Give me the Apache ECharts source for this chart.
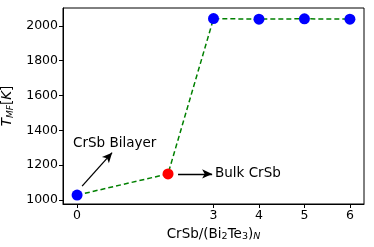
<!DOCTYPE html>
<html><head><meta charset="utf-8">
<script src="https://cdn.jsdelivr.net/npm/echarts@6/dist/echarts.min.js"></script>
<style>html,body{margin:0;padding:0;background:#fff}#c{width:374px;height:247px}</style>
</head><body><div id="c"></div>
<script>
const xValues = [0, 2, 3, 4, 5, 6];
const tmfValues = [1028, 1150, 2042, 2039, 2041, 2039];
const pointColors = ['#0000ff', '#ff0000', '#0000ff', '#0000ff', '#0000ff', '#0000ff'];
const xTicks = [0, 3, 4, 5, 6];
const yTicks = [1000, 1200, 1400, 1600, 1800, 2000];

const chart = echarts.init(document.getElementById('c'), null, {renderer: 'canvas'});
const font = 'DejaVu Sans';
const data = xValues.map((x, i) => ({value: [x, tmfValues[i]], itemStyle: {color: pointColors[i]}}));
chart.setOption({
  animation: false,
  textStyle: {fontFamily: font},
  grid: {left: 63, right: 10, top: 8, bottom: 43, show: true, borderColor: '#000', borderWidth: 1,
         containLabel: false, outerBoundsMode: 'none'},
  xAxis: {
    type: 'value', min: -0.31, max: 6.31,
    axisLine: {show: true, onZero: false, lineStyle: {color: '#000'}},
    axisTick: {show: true, length: 4, customValues: xTicks, lineStyle: {color: '#000'}},
    axisLabel: {customValues: xTicks, color: '#000', fontSize: 12.5, margin: 5, fontFamily: font, formatter: v => String(v)},
    splitLine: {show: false},
    name: '{n|CrSb/(Bi}{s|2}{n|Te}{s|3}{n|)}{i|N}',
    nameLocation: 'middle', nameGap: 22,
    nameTextStyle: {rich: {
      n: {fontSize: 13.5, fontFamily: font, color: '#000'},
      s: {fontSize: 9.5, fontFamily: font, color: '#000', verticalAlign: 'bottom', padding: [6, 0, 0, 0]},
      i: {fontSize: 9.5, fontFamily: font, fontStyle: 'italic', color: '#000', verticalAlign: 'bottom', padding: [6, 0, 0, 0]}
    }}
  },
  yAxis: {
    type: 'value', min: 977, max: 2103,
    axisLine: {show: true, onZero: false, lineStyle: {color: '#000'}},
    axisTick: {show: true, length: 4, customValues: yTicks, lineStyle: {color: '#000'}},
    axisLabel: {customValues: yTicks, color: '#000', fontSize: 12.5, margin: 5, fontFamily: font, formatter: v => String(v)},
    splitLine: {show: false},
    name: '{i|T}{s|MF}{n|[}{i|K}{n|]}',
    nameLocation: 'middle', nameGap: 44, nameRotate: 90,
    nameTextStyle: {rich: {
      n: {fontSize: 13.5, fontFamily: font, color: '#000'},
      i: {fontSize: 13.5, fontFamily: font, fontStyle: 'italic', color: '#000'},
      s: {fontSize: 9, fontFamily: font, fontStyle: 'italic', color: '#000', verticalAlign: 'bottom', padding: [6, 0, 0, 0]}
    }}
  },
  series: [{
    type: 'line', data: data,
    symbol: 'circle', symbolSize: 11,
    lineStyle: {color: '#008000', width: 1.5, type: [5, 3]},
    z: 3,
    markLine: {
      silent: true, symbol: ['none', 'arrow'], symbolSize: [7, 10],
      lineStyle: {color: '#000', width: 1.3, type: 'solid'},
      label: {show: false},
      data: [
        [{coord: [0.11, 1080]}, {coord: [0.77, 1272]}],
        [{coord: [2.22, 1150]}, {coord: [2.97, 1150]}]
      ]
    }
  }],
  graphic: [
    {type: 'text', left: 73, top: 136, style: {text: 'CrSb Bilayer', font: '13.5px DejaVu Sans', fill: '#000'}},
    {type: 'text', left: 215, top: 166, style: {text: 'Bulk CrSb', font: '13.5px DejaVu Sans', fill: '#000'}}
  ]
});
</script></body></html>
